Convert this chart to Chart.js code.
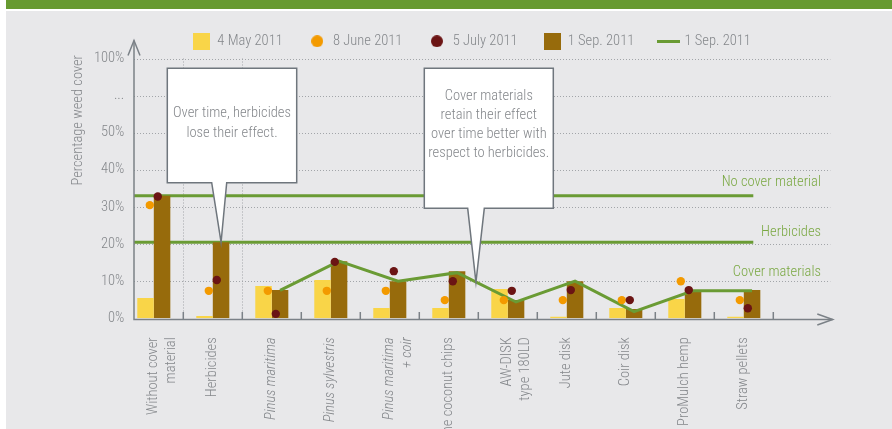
<!DOCTYPE html>
<html>
<head>
<meta charset="utf-8">
<script src="https://cdn.jsdelivr.net/npm/chart.js@4.4.1/dist/chart.umd.min.js"></script>
<style>
html,body{margin:0;padding:0;background:#fff;}
canvas{display:block;}
</style>
</head>
<body>
<canvas id="chart" width="892" height="429"></canvas>
<script>
// data (percentage weed cover)
const categories = [['Without cover','material'],'Herbicides','Pinus maritima','Pinus sylvestris',['Pinus maritima','+ coir'],'Fine coconut chips',['AW-DISK','type 180LD'],'Jute disk','Coir disk','ProMulch hemp','Straw pellets',''];
const may2011  = [5.5, 0.6, 8.7, 10.3, 2.8, 2.8, 7.9, 0.4, 2.8, 5.2, 0.4, null];
const june2011 = [30.5, 7.4, 7.4, 7.4, 7.4, 4.9, 4.9, 4.9, 4.9, 10.0, 4.9, null];
const july2011 = [32.8, 10.3, 1.2, 15.2, 12.7, 10.0, 7.4, 7.6, 4.9, 7.6, 2.7, null];
const sep2011  = [33.0, 20.5, 7.6, 15.4, 10.0, 12.7, 4.9, 10.0, 2.5, 7.6, 7.6, null];
const sepLine  = [null, null, 7.5, 15.4, 10.0, 12.3, 4.4, 10.0, 1.8, 7.4, 7.4, null];
const yTickLabels = ['0%','10%','20%','30%','40%','50%','...','100%'];
const refValues = [33.0, 20.5];
const refLabels = ['No cover material','Herbicides','Cover materials'];
const notes = [['Over time, herbicides','lose their effect.'],['Cover materials','retain their effect','over time better with','respect to herbicides.']];

const FONT = "'Roboto Condensed', Roboto, sans-serif";
const FSIZE = 14.5, FWEIGHT = 300;
const C = {yellow:'#f9d548', orange:'#f39a00', red:'#6b1414', brown:'#976b0c', green:'#6a9b34', greenText:'#7aa843', text:'#84878b', axis:'#7b8187', grid:'#a2a5a9', bg:'#e8e8ea'};
const italicIdx = [2,3,4];
const fontStr = FWEIGHT+' '+FSIZE+'px '+FONT;

function icon(w,h,draw){ const c=document.createElement('canvas'); c.width=w; c.height=h; draw(c.getContext('2d')); return c; }
const icons = [
  icon(17,17,g=>{g.fillStyle=C.yellow; g.fillRect(0,0,17,17);}),
  icon(12,12,g=>{g.fillStyle=C.orange; g.beginPath(); g.arc(6,6,6,0,Math.PI*2); g.fill();}),
  icon(12,12,g=>{g.fillStyle=C.red; g.beginPath(); g.arc(6,6,6,0,Math.PI*2); g.fill();}),
  icon(17,17,g=>{g.fillStyle=C.brown; g.fillRect(0,0,17,17);}),
  icon(23,3,g=>{g.fillStyle=C.green; g.fillRect(0,0,23,3);})
];

// shift dots sideways, put the line on the brown bars
const shiftPlugin = {
  id:'shift',
  afterDatasetsUpdate(chart){
    chart.data.datasets.forEach((ds,i)=>{
      const meta = chart.getDatasetMeta(i);
      if(ds.shiftX) meta.data.forEach(el=>{ el.x += ds.shiftX; });
      if(ds.alignTo!==undefined){
        const bars = chart.getDatasetMeta(ds.alignTo).data;
        meta.data.forEach((el,j)=>{ el.x = bars[j].x; });
      }
    });
  }
};

const decoPlugin = {
  id:'deco',
  beforeDraw(chart){
    const {ctx,width,height} = chart;
    ctx.save();
    ctx.fillStyle='#fff'; ctx.fillRect(0,0,width,height);
    ctx.fillStyle=C.bg; ctx.fillRect(6,11,width-6,height-11);
    ctx.fillStyle='#679a30'; ctx.fillRect(6,0,width-6,9);
    ctx.restore();
  },
  beforeDatasetsDraw(chart){
    const {ctx,chartArea:a} = chart; const x=chart.scales.x, y=chart.scales.y;
    const ax = a.left+9.7, ay = a.bottom+1.2;
    ctx.save();
    // dotted grid
    ctx.strokeStyle=C.grid; ctx.lineWidth=1; ctx.setLineDash([1,2]);
    y.ticks.forEach(t=>{ if(t.value===0) return; const py=Math.round(y.getPixelForValue(t.value))+0.5; ctx.beginPath(); ctx.moveTo(ax,py); ctx.lineTo(a.right-2,py); ctx.stroke(); });
    [0,1].forEach(i=>{ const px=Math.round((x.getPixelForValue(i)+x.getPixelForValue(i+1))/2)+0.5; ctx.beginPath(); ctx.moveTo(px,a.top); ctx.lineTo(px,a.bottom-6); ctx.stroke(); });
    ctx.setLineDash([]);
    // reference lines
    ctx.strokeStyle=C.green; ctx.lineWidth=3;
    refValues.forEach(v=>{ const py=y.getPixelForValue(v); ctx.beginPath(); ctx.moveTo(ax,py); ctx.lineTo(753.3,py); ctx.stroke(); });
    // reference labels
    ctx.fillStyle=C.greenText; ctx.font=fontStr; ctx.textAlign='right'; ctx.textBaseline='middle';
    [36.5,23.05,12.3].forEach((v,i)=>ctx.fillText(refLabels[i],821,y.getPixelForValue(v)));
    // axes with arrows
    ctx.strokeStyle=C.axis; ctx.lineWidth=1.5;
    ctx.beginPath(); ctx.moveTo(ax,a.top-18); ctx.lineTo(ax,ay); ctx.lineTo(a.right+0.4,ay); ctx.stroke();
    ctx.beginPath(); ctx.moveTo(ax-6,a.top-3); ctx.lineTo(ax,a.top-18); ctx.lineTo(ax+6,a.top-3); ctx.stroke();
    ctx.beginPath(); ctx.moveTo(a.right-15,ay-5.5); ctx.lineTo(a.right+0.4,ay); ctx.lineTo(a.right-15,ay+5.5); ctx.stroke();
    for(let i=0;i<11;i++){ const px=(x.getPixelForValue(i)+x.getPixelForValue(i+1))/2; ctx.beginPath(); ctx.moveTo(px,ay); ctx.lineTo(px,ay-7.5); ctx.stroke(); }
    // y title
    ctx.fillStyle=C.text; ctx.font=fontStr; ctx.textAlign='right';
    ctx.translate(78,55); ctx.rotate(-Math.PI/2); ctx.fillText('Percentage weed cover',0,0);
    ctx.restore();
  },
  afterDatasetsDraw(chart){
    const {ctx} = chart;
    const bar = chart.getDatasetMeta(3).data[1];
    const lp = chart.getDatasetMeta(4).data;
    const f = 0.32;
    const tip2 = {x: lp[5].x+(lp[6].x-lp[5].x)*f, y: lp[5].y+(lp[6].y-lp[5].y)*f};
    const boxes = [
      {l:167.3,t:68.3,r:296.7,b:182.7,p1:211.7,p2:226.7,tip:{x:bar.x,y:bar.y},lines:notes[0],ty:113.3,lh:20},
      {l:424.3,t:68.3,r:553.3,b:208.3,p1:467.7,p2:484.3,tip:tip2,lines:notes[1],ty:96.7,lh:19}
    ];
    ctx.save();
    boxes.forEach(bx=>{
      ctx.beginPath();
      ctx.moveTo(bx.l,bx.t); ctx.lineTo(bx.r,bx.t); ctx.lineTo(bx.r,bx.b); ctx.lineTo(bx.p2,bx.b);
      ctx.lineTo(bx.tip.x,bx.tip.y); ctx.lineTo(bx.p1,bx.b); ctx.lineTo(bx.l,bx.b); ctx.closePath();
      ctx.fillStyle='#fff'; ctx.fill();
      ctx.strokeStyle='#6f767d'; ctx.lineWidth=1.5; ctx.lineJoin='miter'; ctx.stroke();
      ctx.fillStyle=C.text; ctx.font=fontStr; ctx.textAlign='center'; ctx.textBaseline='middle';
      bx.lines.forEach((s,k)=>ctx.fillText(s,(bx.l+bx.r)/2,bx.ty+k*bx.lh));
    });
    ctx.restore();
  }
};

const barOpts = {type:'bar', barPercentage:1, categoryPercentage:0.56, order:3, borderWidth:0};
const dotOpts = {type:'line', showLine:false, pointRadius:4.2, pointBorderWidth:0, pointHoverRadius:4.2};

new Chart(document.getElementById('chart'), {
  data:{
    labels: categories,
    datasets:[
      {...barOpts, label:'4 May 2011', data:may2011, backgroundColor:C.yellow},
      {...dotOpts, label:'8 June 2011', data:june2011, pointBackgroundColor:C.orange, backgroundColor:C.orange, order:1, shiftX:-4},
      {...dotOpts, label:'5 July 2011', data:july2011, pointBackgroundColor:C.red, backgroundColor:C.red, order:0, shiftX:4},
      {...barOpts, label:'1 Sep. 2011', data:sep2011, backgroundColor:C.brown},
      {type:'line', label:'1 Sep. 2011', data:sepLine, borderColor:C.green, borderWidth:3, pointRadius:0, tension:0, order:2, alignTo:3}
    ]
  },
  options:{
    responsive:false, animation:false,
    layout:{padding:{left:74.3, right:22.3, top:8, bottom:0}},
    plugins:{
      tooltip:{enabled:false},
      legend:{
        position:'top',
        labels:{
          usePointStyle:true, pointStyleWidth:17, boxHeight:15, padding:26, color:C.text,
          font:{family:FONT, size:FSIZE, weight:FWEIGHT},
          generateLabels:(chart)=>chart.data.datasets.map((ds,i)=>({text:ds.label, pointStyle:icons[i], fillStyle:'rgba(0,0,0,0)', strokeStyle:'rgba(0,0,0,0)', lineWidth:0, hidden:false, datasetIndex:i, fontColor:C.text}))
        }
      }
    },
    scales:{
      x:{
        offset:true, grid:{display:false}, border:{display:false},
        ticks:{autoSkip:false, minRotation:90, maxRotation:90, padding:11, color:C.text,
          font:(c)=>({family:FONT, size:FSIZE, weight:FWEIGHT, style: italicIdx.includes(c.index)?'italic':'normal'})},
        afterFit:(s)=>{ s.height = 110.7; }
      },
      y:{
        min:0, max:70,
        grid:{display:false, drawTicks:false}, border:{display:false},
        ticks:{stepSize:10, padding:0, color:C.text, font:{family:FONT, size:FSIZE, weight:FWEIGHT}, callback:(v,i)=>yTickLabels[i]},
        afterFit:(s)=>{ s.width = 50; }
      },
      y2:{
        position:'right', min:0, max:1,
        grid:{display:false, drawTicks:false}, border:{display:false},
        ticks:{display:false},
        afterFit:(s)=>{ s.width = 37.4; }
      }
    }
  },
  plugins:[shiftPlugin, decoPlugin]
});
</script>
</body>
</html>
